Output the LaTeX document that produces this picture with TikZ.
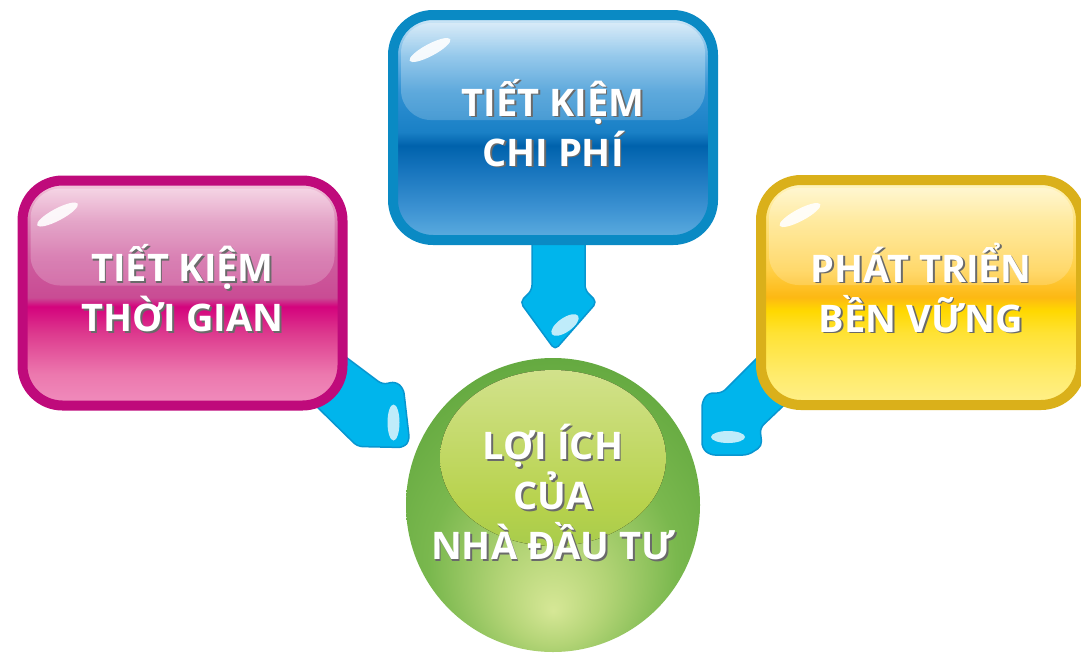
\documentclass[tikz,border=0pt]{standalone}
\usepackage{fontspec}
\setmainfont{Open Sans}
\usetikzlibrary{shapes.geometric, fadings, backgrounds}

\definecolor{pinkrim}{HTML}{BF0A7B}
\definecolor{bluerim}{HTML}{0A8AC4}
\definecolor{goldrim}{HTML}{DAB01A}
\definecolor{arrowblue}{HTML}{00B5EC}
\definecolor{arrowrim}{HTML}{0896D0}
\definecolor{textshadow}{HTML}{6A6A6A}

\definecolor{pinkA}{HTML}{F08DBD}
\definecolor{pinkB}{HTML}{EC78AE}
\definecolor{pinkC}{HTML}{DD3A8E}
\definecolor{pinkD}{HTML}{D4037D}
\definecolor{pinkE}{HTML}{C94C94}
\definecolor{pinkF}{HTML}{CE5C9E}
\definecolor{pinkG}{HTML}{DA82B3}
\definecolor{pinkH}{HTML}{F2C4DA}

\definecolor{blueA}{HTML}{5EAEE0}
\definecolor{blueB}{HTML}{3C92D2}
\definecolor{blueC}{HTML}{1573BC}
\definecolor{blueD}{HTML}{0062AC}
\definecolor{blueE}{HTML}{1A80C6}
\definecolor{blueF}{HTML}{2E90D2}
\definecolor{blueG}{HTML}{6CB4E4}
\definecolor{blueH}{HTML}{CCE5F6}

\definecolor{goldA}{HTML}{FFF08A}
\definecolor{goldB}{HTML}{FFEB6A}
\definecolor{goldC}{HTML}{FFE234}
\definecolor{goldD}{HTML}{FFD800}
\definecolor{goldE}{HTML}{FDB813}
\definecolor{goldF}{HTML}{FFCF45}
\definecolor{goldG}{HTML}{FFE27A}
\definecolor{goldH}{HTML}{FFF4BE}

\definecolor{ballA}{HTML}{D6E796}
\definecolor{ballB}{HTML}{B3D476}
\definecolor{ballC}{HTML}{7AB84E}
\definecolor{ballD}{HTML}{64A940}
\definecolor{glowtop}{HTML}{D4E391}
\definecolor{glowmid}{HTML}{B7D24C}
\definecolor{glowbot}{HTML}{82BC4E}

\pgfdeclareverticalshading{pinkgloss}{100bp}{color(0bp)=(pinkA); color(25bp)=(pinkA); color(32bp)=(pinkB); color(41bp)=(pinkC); color(47bp)=(pinkD); color(49bp)=(pinkE); color(58bp)=(pinkF); color(66bp)=(pinkG); color(74bp)=(pinkH); color(100bp)=(pinkH)}
\pgfdeclareverticalshading{bluegloss}{100bp}{color(0bp)=(blueA); color(25bp)=(blueA); color(32bp)=(blueB); color(41bp)=(blueC); color(46bp)=(blueD); color(49bp)=(blueE); color(58bp)=(blueF); color(66bp)=(blueG); color(74bp)=(blueH); color(100bp)=(blueH)}
\pgfdeclareverticalshading{goldgloss}{100bp}{color(0bp)=(goldA); color(25bp)=(goldA); color(32bp)=(goldB); color(41bp)=(goldC); color(46bp)=(goldD); color(49bp)=(goldE); color(55bp)=(goldF); color(66bp)=(goldG); color(74bp)=(goldH); color(100bp)=(goldH)}
\pgfdeclareradialshading{greenball}{\pgfpoint{0bp}{-18bp}}{color(0bp)=(ballA); color(9bp)=(ballB); color(21bp)=(ballC); color(32bp)=(ballD); color(50bp)=(ballD)}

\tikzfading[name=glossfade, top color=transparent!65, bottom color=transparent!100]

\newcommand{\shadowed}[1]{\makebox[0pt][l]{\hspace{1.8pt}\raisebox{-1.8pt}{\textcolor{textshadow}{#1}}}#1}

\tikzstyle{label text} = [text=white, align=center, font=\fontsize{38}{50}\selectfont\bfseries, text depth=10pt]
\tikzstyle{box} = [label text, rectangle, rounded corners=40pt, minimum width=320pt, minimum height=225pt, line width=10pt,
    path picture={
        \fill[white, path fading=glossfade, rounded corners=30pt] ([shift={(8,8)}]path picture bounding box.north west) rectangle ([shift={(-8,105)}]path picture bounding box.north east);
    }]
\tikzstyle{timebox} = [box, draw=pinkrim, shading=pinkgloss]
\tikzstyle{costbox} = [box, draw=bluerim, shading=bluegloss]
\tikzstyle{growbox} = [box, draw=goldrim, shading=goldgloss]
\tikzstyle{ball} = [label text, circle, minimum size=294pt, inner sep=0pt, shading=greenball, text depth=26pt,
    path picture={
        \fill[top color=glowtop, bottom color=glowbot, middle color=glowmid] ([shift={(0,-47)}]path picture bounding box.center) ellipse (113 and 88);
    }]
\tikzstyle{blockarrow} = [fill=arrowblue, draw=arrowrim, line width=1.5pt, rounded corners=5pt, line join=round]
\tikzstyle{shine} = [fill=white, opacity=0.75]
\tikzstyle{gleam} = [fill=white, opacity=0.9]

\begin{document}
\begin{tikzpicture}[x=1pt, y=-1pt, node distance=370pt]
    \useasboundingbox (0,0) rectangle (1081,654);

    \node (invest) [ball] at (553,505) {\shadowed{LỢI ÍCH}\\\shadowed{CỦA}\\\shadowed{NHÀ ĐẦU TƯ}};
    \node (costbox) [costbox, above of=invest, yshift=7.5pt] {\shadowed{TIẾT KIỆM}\\\shadowed{CHI PHÍ}};
    \node (timebox) [timebox, left of=invest, xshift=-0.5pt, yshift=212pt] {\shadowed{TIẾT KIỆM}\\\shadowed{THỜI GIAN}};
    \node (growbox) [growbox, right of=invest, xshift=-2pt, yshift=212.5pt] {\shadowed{PHÁT TRIỂN}\\\shadowed{BỀN VỮNG}};

    % glossy spots on the boxes
    \coordinate (timegleam) at ([shift={(40,39)}]timebox.north west);
    \coordinate (costgleam) at ([shift={(42,40)}]costbox.north west);
    \coordinate (growgleam) at ([shift={(44,40)}]growbox.north west);
    \foreach \spot in {timegleam, costgleam, growgleam}
        \fill [gleam, rotate around={28:(\spot)}] (\spot) ellipse (23 and 6);

    \begin{pgfonlayer}{background}
        % arrow from the top box
        \draw [blockarrow] ([shift={(-21,-10)}]costbox.south) -- ([shift={(-21,45)}]costbox.south) -- ([shift={(-33,57)}]costbox.south) -- ([shift={(2,105)}]costbox.south) -- ([shift={(44,57)}]costbox.south) -- ([shift={(32,45)}]costbox.south) -- ([shift={(32,-10)}]costbox.south) -- cycle;
        % arrow from the left box
        \draw [blockarrow] ([shift={(-17,-65)}]timebox.south east) -- ([shift={(35,-26)}]timebox.south east) -- ([shift={(48,-29)}]timebox.south east) -- ([shift={(56,-22)}]timebox.south east) -- ([shift={(62,30)}]timebox.south east) -- ([shift={(56,37)}]timebox.south east) -- ([shift={(10,36)}]timebox.south east) -- ([shift={(-37,-10)}]timebox.south east) -- cycle;
        % arrow from the right box
        \draw [blockarrow] ([shift={(19,-70)}]growbox.south west) -- ([shift={(-34,-17)}]growbox.south west) -- ([shift={(-48,-17)}]growbox.south west) -- ([shift={(-54,-8)}]growbox.south west) -- ([shift={(-54,38)}]growbox.south west) -- ([shift={(-46,45)}]growbox.south west) -- ([shift={(-8,45)}]growbox.south west) -- ([shift={(6,36)}]growbox.south west) -- ([shift={(4,18)}]growbox.south west) -- ([shift={(44,-20)}]growbox.south west) -- cycle;
    \end{pgfonlayer}

    \coordinate (downshine) at ([shift={(12,80)}]costbox.south);
    \coordinate (leftshine) at ([shift={(46,12)}]timebox.south east);
    \coordinate (rightshine) at ([shift={(-28,27)}]growbox.south west);
    \fill [shine, rotate around={35:(downshine)}] (downshine) ellipse (16 and 7);
    \fill [shine] (leftshine) ellipse (6 and 18);
    \fill [shine] (rightshine) ellipse (17 and 6);

\end{tikzpicture}
\end{document}
